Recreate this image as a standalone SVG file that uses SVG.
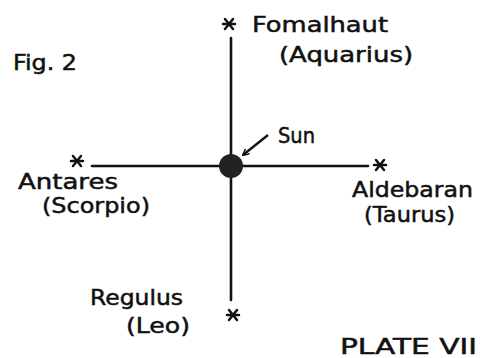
<svg xmlns="http://www.w3.org/2000/svg" width="480" height="358" viewBox="0 0 480 358">
<style>
text{font-family:"DejaVu Sans","Liberation Sans",sans-serif;font-size:21px;fill:#111;stroke:#111;stroke-width:0.5;}
.ln{stroke:#111;stroke-width:2.6;fill:none;stroke-linecap:round;}
.st{stroke:#111;stroke-width:2.5;stroke-linecap:round;}
</style>
<defs>
<g id="star"><line class="st" x1="-6" y1="0" x2="6" y2="0"/><line class="st" x1="-4" y1="-5" x2="4" y2="5"/><line class="st" x1="-4" y1="5" x2="4" y2="-5"/></g>
<marker id="ah" viewBox="0 0 10 10" refX="9" refY="5" markerWidth="7" markerHeight="7" orient="auto" markerUnits="userSpaceOnUse"><path d="M0,0 L10,5 L0,10" fill="none" stroke="#111" stroke-width="2"/></marker>
</defs>
<rect width="480" height="358" fill="#fff"/>
<g id="connectors">
<line class="ln" x1="231" y1="38" x2="231" y2="300"/>
<line class="ln" x1="92" y1="166" x2="368" y2="166"/>
<path d="M268,135 L243,155" stroke="#111" stroke-width="2.5" fill="none" marker-end="url(#ah)"/>
</g>
<g id="sun"><circle cx="231" cy="166" r="12" fill="#222"/><text x="278" y="143" textLength="37" lengthAdjust="spacingAndGlyphs">Sun</text></g>
<g id="fomalhaut"><use href="#star" x="229" y="24"/><text x="252" y="32" textLength="136" lengthAdjust="spacingAndGlyphs">Fomalhaut</text><text x="279" y="62" textLength="134" lengthAdjust="spacingAndGlyphs">(Aquarius)</text></g>
<g id="antares"><use href="#star" x="77" y="161"/><text x="18" y="189" textLength="100" lengthAdjust="spacingAndGlyphs">Antares</text><text x="42" y="213" textLength="108" lengthAdjust="spacingAndGlyphs">(Scorpio)</text></g>
<g id="aldebaran"><use href="#star" x="380" y="165"/><text x="352" y="197" textLength="121" lengthAdjust="spacingAndGlyphs">Aldebaran</text><text x="364" y="222" textLength="91" lengthAdjust="spacingAndGlyphs">(Taurus)</text></g>
<g id="regulus"><use href="#star" x="233" y="315"/><text x="90" y="305" textLength="93" lengthAdjust="spacingAndGlyphs">Regulus</text><text x="126" y="333" textLength="64" lengthAdjust="spacingAndGlyphs">(Leo)</text></g>
<g id="fig"><text x="13" y="70" textLength="64" lengthAdjust="spacingAndGlyphs">Fig. 2</text></g>
<g id="plate"><text x="340" y="354" textLength="137" lengthAdjust="spacingAndGlyphs">PLATE VII</text></g>
</svg>
